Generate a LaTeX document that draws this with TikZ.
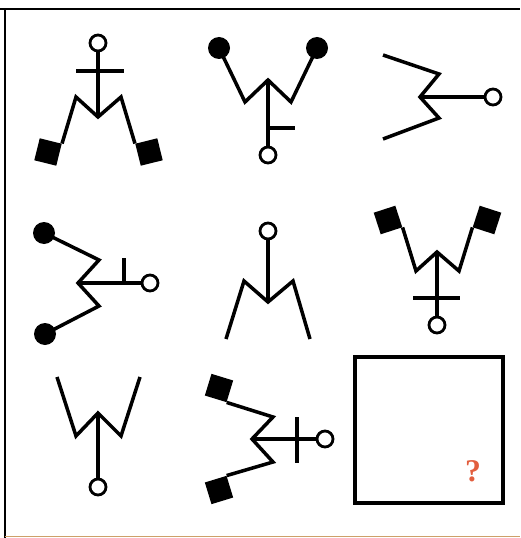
\documentclass[tikz,border=0pt]{standalone}
\usepackage{fontspec}
\usepackage{xcolor}
\newfontfamily\qfont{Liberation Serif}
\definecolor{qmark}{RGB}{226,94,62}
\definecolor{edgetan}{RGB}{205,160,105}

\begin{document}
\begin{tikzpicture}[
    x=0.03cm, y=-0.03cm,
    line_style/.style={
        draw=black,
        line width=3pt
        },
    knob_style/.style={
        circle,
        draw=black,
        fill=white,
        line width=2.4pt,
        minimum size=0.48cm,
        inner sep=0pt
        },
    ball_style/.style={
        circle,
        fill=black,
        minimum size=0.66cm,
        inner sep=0pt
        },
    flag_style/.style={
        rectangle,
        fill=black,
        minimum size=0.68cm,
        inner sep=0pt
        },
    slot_style/.style={
        rectangle,
        draw=black,
        line width=2.6pt,
        minimum width=4.44cm,
        minimum height=4.38cm
        }]

    \useasboundingbox (0,0) rectangle (520,538);

    % page frame
    \draw[line width=1.8pt] (0,9) -- (520,9);
    \draw[line width=1.8pt] (5,9) -- (5,538);
    \draw[edgetan, line width=1pt] (5,536.5) -- (520,536.5);

    % row 1
    \node[knob_style] (k1) at (98,43) {};
    \coordinate (v1) at (98,117);
    \node[flag_style, rotate=-14] (fa1) at (48,152) {};
    \node[flag_style, rotate=14] (fb1) at (149,152) {};
    \draw[line_style] (fa1.north east) -- (76,97) -- (v1) -- (121,97) -- (fb1.north west);
    \draw[line_style] (v1) -- (k1);
    \draw[line_style] (76,71) -- (124,71);

    \node[knob_style] (k2) at (268,155) {};
    \coordinate (v2) at (268,80);
    \node[ball_style] (ba2) at (219,48) {};
    \node[ball_style] (bb2) at (317,48) {};
    \draw[line_style] (ba2.center) -- (245,102) -- (v2) -- (291,102) -- (bb2.center);
    \draw[line_style] (v2) -- (k2);
    \draw[line_style] (268,128) -- (295,128);

    \node[knob_style] (k3) at (493,97) {};
    \coordinate (v3) at (420,97);
    \draw[line_style] (383,55) -- (439,74) -- (v3) -- (439,118) -- (383,139);
    \draw[line_style] (v3) -- (k3);

    % row 2
    \node[knob_style] (k4) at (150,283) {};
    \coordinate (v4) at (78,283);
    \node[ball_style] (ba4) at (44,233) {};
    \node[ball_style] (bb4) at (45,334) {};
    \draw[line_style] (ba4.center) -- (99,260) -- (v4) -- (99,306) -- (bb4.center);
    \draw[line_style] (v4) -- (k4);
    \draw[line_style] (124,283) -- (124,258);

    \node[knob_style] (k5) at (268,231) {};
    \coordinate (v5) at (268,302);
    \draw[line_style] (226,339) -- (244,281) -- (v5) -- (293,281) -- (310,339);
    \draw[line_style] (v5) -- (k5);

    \node[knob_style] (k6) at (437,325) {};
    \coordinate (v6) at (437,252);
    \node[flag_style, rotate=18] (fa6) at (388,220) {};
    \node[flag_style, rotate=-18] (fb6) at (487,220) {};
    \draw[line_style] (fa6.south east) -- (416,271) -- (v6) -- (459,271) -- (fb6.south west);
    \draw[line_style] (v6) -- (k6);
    \draw[line_style] (413,298) -- (460,298);

    % row 3
    \node[knob_style] (k7) at (98,487) {};
    \coordinate (v7) at (98,413);
    \draw[line_style] (57,377) -- (76,436) -- (v7) -- (121,436) -- (140,377);
    \draw[line_style] (v7) -- (k7);

    \node[knob_style] (k8) at (325,439) {};
    \coordinate (v8) at (252,439);
    \node[flag_style, rotate=-17] (fa8) at (219,388) {};
    \node[flag_style, rotate=17] (fb8) at (219,490) {};
    \draw[line_style] (fa8.south east) -- (273,417) -- (v8) -- (273,462) -- (fb8.north east);
    \draw[line_style] (v8) -- (k8);
    \draw[line_style] (297,417) -- (297,463);

    \node[slot_style] (slot) at (429,430) {};
    \node[text=qmark, font=\qfont\fontsize{27}{27}\selectfont\bfseries] (q) at (473,471) {?};
\end{tikzpicture}
\end{document}
